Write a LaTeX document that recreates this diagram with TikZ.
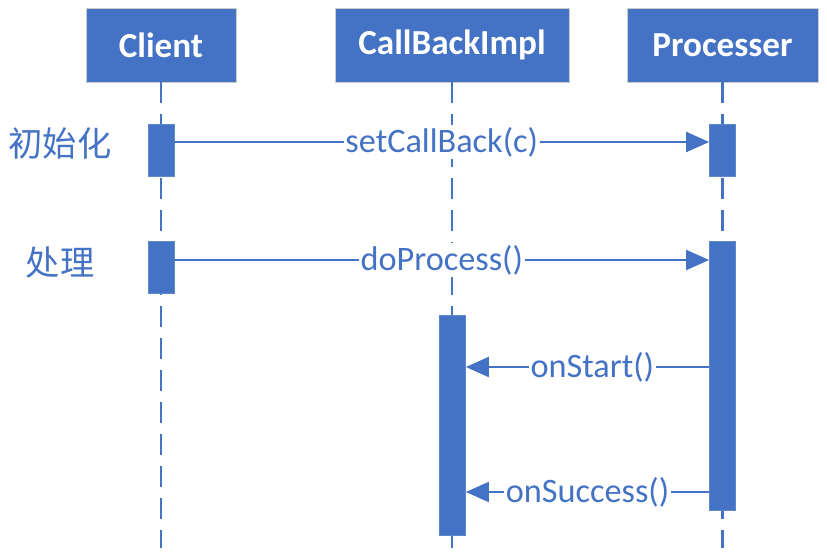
\documentclass[tikz,border=0pt]{standalone}
\usepackage{fontspec}
\setmainfont{Carlito}
\newfontfamily\cjk{Noto Sans CJK SC}
\usepackage{tikz}
\usetikzlibrary{arrows.meta}
\definecolor{seqblue}{HTML}{4472C4}

\begin{document}
\begin{tikzpicture}[x=0.02cm,y=-0.02cm,
 head/.style={rectangle,draw=black!20,fill=seqblue,text=white,minimum height=1.48cm,inner sep=0pt,
  font=\fontsize{20}{24}\selectfont\bfseries},
 act/.style={rectangle,draw=seqblue!85!white,fill=seqblue,minimum width=0.52cm,anchor=north,inner sep=0pt},
 life/.style={draw=seqblue,line width=1.4pt,dash pattern=on 0.42cm off 0.22cm},
 msg/.style={draw=seqblue,line width=1.2pt,-{Triangle[length=0.46cm,width=0.4cm]}},
 lbl/.style={fill=white,text=seqblue,inner sep=1pt,font=\fontsize{19.5}{23}\selectfont},
 phase/.style={text=seqblue,font=\cjk\fontsize{19.5}{23}\selectfont}]
\useasboundingbox (0,0) rectangle (827,557);
% participants
\node[head,minimum width=3cm] (client) at (161,45) {Client};
\node[head,minimum width=4.68cm] (impl) at (452,45) {CallBackImpl};
\node[head,minimum width=3.82cm] (proc) at (722.5,45) {Processer};
\foreach \n/\x in {client/161,impl/452,proc/722.5}
 \draw[life] (\n.south) -- (\x,548);
% activations
\node[act,minimum height=1.04cm] (c1) at (161,124) {};
\node[act,minimum height=1.04cm] (c2) at (161,241) {};
\node[act,minimum height=1.04cm] (p1) at (722.5,124) {};
\node[act,minimum height=5.38cm] (p2) at (722.5,241) {};
\node[act,minimum height=4.4cm] (i1) at (452.5,315) {};
% phases
\node[phase] (phInit) at (60,143) {初始化};
\node[phase] (phWork) at (60,263) {处理};
% messages
\coordinate (m1) at (0,142);
\coordinate (m2) at (0,260);
\coordinate (m3) at (0,367);
\coordinate (m4) at (0,492);
\draw[msg] (c1.east |- m1) -- node[lbl]{setCallBack(c)} (p1.west |- m1);
\draw[msg] (c2.east |- m2) -- node[lbl]{doProcess()} (p2.west |- m2);
\draw[msg] (p2.west |- m3) -- node[lbl,pos=0.48]{onStart()} (i1.east |- m3);
\draw[msg] (p2.west |- m4) -- node[lbl]{onSuccess()} (i1.east |- m4);
\end{tikzpicture}
\end{document}
